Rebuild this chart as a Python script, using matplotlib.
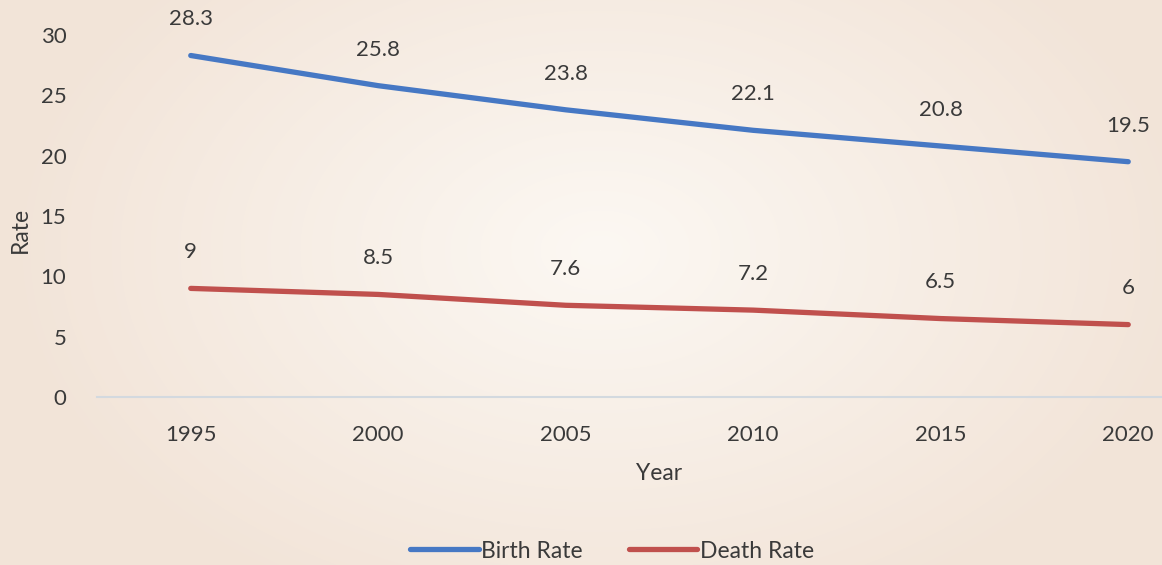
import numpy as np
import matplotlib
matplotlib.use('Agg')
import matplotlib.pyplot as plt

# Data
years = ['1995', '2000', '2005', '2010', '2015', '2020']
birth_rate = [28.3, 25.8, 23.8, 22.1, 20.8, 19.5]
death_rate = [9, 8.5, 7.6, 7.2, 6.5, 6]

BLUE = '#4678C4'
RED = '#C0504D'
TXT = '#3A3A3A'

plt.rcParams['font.family'] = ['Lato', 'DejaVu Sans']

W, H = 1162, 565
fig = plt.figure(figsize=(W / 100, H / 100), dpi=100)

# radial gradient background
bg = fig.add_axes([0, 0, 1, 1], zorder=-10)
yy, xx = np.mgrid[0:H, 0:W]
r = np.sqrt(((xx - 600) / 600.0) ** 2 + ((yy - 250) / 400.0) ** 2)
r = np.clip(r, 0, 1)[..., None]
inner = np.array([252, 248, 243]) / 255.0
outer = np.array([242, 228, 216]) / 255.0
img = inner * (1 - r) + outer * r
bg.imshow(img, aspect='auto', extent=[0, 1, 0, 1])
bg.axis('off')

# main axes: x from px 97 to 1222 (extends beyond figure), y from 397 to 35
left = 97 / W
width = (1222 - 97) / W
bottom = (H - 397) / H
height = (397 - 35) / H
ax = fig.add_axes([left, bottom, width, height])
ax.set_facecolor('none')

x = np.arange(len(years))
ax.plot(x, birth_rate, color=BLUE, lw=3.8, solid_capstyle='round', label='Birth Rate')
ax.plot(x, death_rate, color=RED, lw=3.8, solid_capstyle='round', label='Death Rate')

for xi, v in zip(x, birth_rate):
    ax.annotate(f'{v:g}', (xi, v), xytext=(0, 26), textcoords='offset points',
                ha='center', va='center', fontsize=16, color=TXT)
for xi, v in zip(x, death_rate):
    ax.annotate(f'{v:g}', (xi, v), xytext=(0, 26), textcoords='offset points',
                ha='center', va='center', fontsize=16, color=TXT)

ax.set_xlim(-0.5, len(years) - 0.5)
ax.set_ylim(0, 30)
ax.set_xticks(x)
ax.set_xticklabels(years)
ax.set_yticks(range(0, 31, 5))
ax.tick_params(axis='both', length=0, labelsize=16, labelcolor=TXT)
ax.tick_params(axis='x', pad=20)
ax.tick_params(axis='y', pad=22)

for s in ['top', 'right', 'left']:
    ax.spines[s].set_visible(False)
ax.spines['bottom'].set_color('#D3D9DF')
ax.spines['bottom'].set_linewidth(1.5)

fig.text(659 / W, 1 - 474 / H, 'Year', ha='center', va='center', fontsize=16.5, color=TXT)
fig.text(20 / W, 1 - 230 / H, 'Rate', ha='center', va='center', rotation=90,
         fontsize=16.5, color=TXT)

fig.legend(loc='center', bbox_to_anchor=(612 / W, 1 - 551 / H), ncol=2, frameon=False,
           fontsize=16.5, labelcolor=TXT, handlelength=3.0, handletextpad=0.1,
           columnspacing=2.0)

fig.savefig('out.png', dpi=100)
